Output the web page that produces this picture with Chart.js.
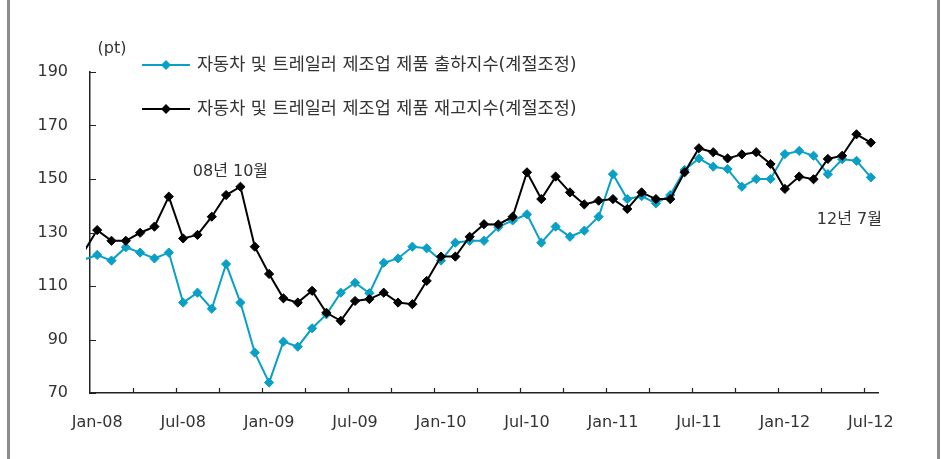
<!DOCTYPE html>
<html>
<head>
<meta charset="utf-8">
<script src="https://cdn.jsdelivr.net/npm/chart.js@4.4.0/dist/chart.umd.min.js"></script>
<style>
  html, body { margin: 0; padding: 0; background: #fff; }
  #wrap { position: relative; width: 941px; height: 459px; }
</style>
</head>
<body>
<div id="wrap"><canvas id="canvas" width="941" height="459"></canvas></div>
<script>
// months, first one (Dec-07) only shows as a line stub at the left edge
const months = ['Dec-07',
  'Jan-08','Feb-08','Mar-08','Apr-08','May-08','Jun-08','Jul-08','Aug-08','Sep-08','Oct-08','Nov-08','Dec-08',
  'Jan-09','Feb-09','Mar-09','Apr-09','May-09','Jun-09','Jul-09','Aug-09','Sep-09','Oct-09','Nov-09','Dec-09',
  'Jan-10','Feb-10','Mar-10','Apr-10','May-10','Jun-10','Jul-10','Aug-10','Sep-10','Oct-10','Nov-10','Dec-10',
  'Jan-11','Feb-11','Mar-11','Apr-11','May-11','Jun-11','Jul-11','Aug-11','Sep-11','Oct-11','Nov-11','Dec-11',
  'Jan-12','Feb-12','Mar-12','Apr-12','May-12','Jun-12','Jul-12'];

// 출하지수 (blue)
const shipment = [119.7,
  121.6, 119.5, 124.5, 122.5, 120.3, 122.5, 103.8, 107.5, 101.5, 118.2, 103.8, 85.1,
  73.9, 89.2, 87.3, 94.2, 99.4, 107.5, 111.2, 107.3, 118.7, 120.3, 124.7, 124.1,
  119.5, 126.2, 126.9, 126.9, 132.0, 134.5, 136.8, 126.2, 132.2, 128.4, 130.7, 135.9,
  151.8, 142.5, 143.6, 140.9, 144.0, 153.4, 157.7, 154.6, 153.7, 147.1, 150.0, 150.0,
  159.3, 160.5, 158.7, 151.8, 157.4, 156.8, 150.6];

// 재고지수 (black)
const inventory = [122.2,
  130.9, 126.9, 126.9, 129.9, 132.2, 143.4, 127.8, 129.1, 135.9, 144.0, 147.1, 124.7,
  114.5, 105.4, 103.8, 108.2, 100.0, 97.0, 104.4, 105.1, 107.5, 103.8, 103.2, 111.9,
  121.0, 121.0, 128.4, 133.1, 133.0, 135.9, 152.5, 142.5, 150.9, 145.0, 140.5, 141.9,
  142.5, 138.8, 145.0, 142.5, 142.5, 152.5, 161.5, 160.0, 157.7, 159.2, 160.0, 155.6,
  146.3, 150.9, 149.9, 157.5, 158.7, 166.7, 163.6];

const seriesNames = ['자동차 및 트레일러 제조업 제품 출하지수(계절조정)',
                     '자동차 및 트레일러 제조업 제품 재고지수(계절조정)'];
const xTickLabels = ['Jan-08','Jul-08','Jan-09','Jul-09','Jan-10','Jul-10','Jan-11','Jul-11','Jan-12','Jul-12'];
const yTicks = [70, 90, 110, 130, 150, 170, 190];

const BLUE = '#0aa0c6';
const FONT = "'DejaVu Sans', 'Noto Sans CJK KR', sans-serif";

// x position: Jan-08 = 0, Dec-07 = -1
const pts = arr => arr.map((v, i) => ({ x: i - 1, y: v }));
const xTickPos = xTickLabels.map(l => months.indexOf(l) - 1);

const extras = {
  id: 'extras',
  beforeDraw(chart) {
    const c = chart.ctx;
    c.save();
    c.fillStyle = '#8c8c8c';
    c.fillRect(7, 0, 3, 459);
    c.fillRect(937, 0, 3, 459);
    c.restore();
  },
  afterDraw(chart) {
    const c = chart.ctx, a = chart.chartArea;
    const x = chart.scales.x, y = chart.scales.y;
    c.save();
    // inside tick marks
    c.strokeStyle = '#222';
    c.lineWidth = 1.2;
    c.beginPath();
    yTicks.forEach(v => {
      const py = Math.round(y.getPixelForValue(v)) + 0.5;
      c.moveTo(a.left, py); c.lineTo(a.left + 6, py);
    });
    for (let b = 2.5; b < 54.5; b += 3) {
      const px = Math.round(x.getPixelForValue(b)) + 0.5;
      c.moveTo(px, a.bottom); c.lineTo(px, a.bottom - 5);
    }
    c.stroke();

    c.fillStyle = '#333';
    c.font = '16px ' + FONT;
    c.textBaseline = 'middle';
    c.textAlign = 'center';
    c.fillText('(pt)', 112, 49);
    c.fillText('08년 10월', x.getPixelForValue(9.3), y.getPixelForValue(152.6));
    c.fillText('12년 7월', x.getPixelForValue(52.5), y.getPixelForValue(134.9));

    // legend
    const rows = [[BLUE, 65], ['#000', 109]];
    c.font = '17.5px ' + FONT;
    c.textAlign = 'left';
    rows.forEach(([col, ly], i) => {
      c.strokeStyle = col; c.fillStyle = col; c.lineWidth = 2;
      c.beginPath(); c.moveTo(142, ly); c.lineTo(190, ly); c.stroke();
      c.beginPath();
      c.moveTo(166, ly - 5); c.lineTo(171, ly); c.lineTo(166, ly + 5); c.lineTo(161, ly);
      c.closePath(); c.fill();
      c.fillStyle = '#333';
      c.fillText(seriesNames[i], 197, ly);
    });
    c.restore();
  }
};

const marker = ctx => ctx.dataIndex === 0 ? 0 : 4.6;

new Chart(document.getElementById('canvas'), {
  type: 'line',
  data: {
    datasets: [{
      label: seriesNames[0],
      data: pts(shipment),
      borderColor: BLUE,
      backgroundColor: BLUE,
      borderWidth: 2,
      pointStyle: 'rectRot',
      pointRadius: marker,
      pointBorderWidth: 1,
      tension: 0,
      order: 2,
      clip: { left: 4, right: 4, top: 10, bottom: 10 }
    }, {
      label: seriesNames[1],
      data: pts(inventory),
      borderColor: '#000',
      backgroundColor: '#000',
      borderWidth: 2,
      pointStyle: 'rectRot',
      pointRadius: marker,
      pointBorderWidth: 1,
      tension: 0,
      order: 1,
      clip: { left: 4, right: 4, top: 10, bottom: 10 }
    }]
  },
  options: {
    responsive: false,
    animation: false,
    layout: { padding: { top: 72, right: 63, left: 0, bottom: 0 } },
    plugins: { legend: { display: false }, tooltip: { enabled: false } },
    scales: {
      x: {
        type: 'linear',
        min: -0.5,
        max: 54.5,
        afterFit: s => { s.height = 66; },
        afterBuildTicks: s => { s.ticks = xTickPos.map(v => ({ value: v })); },
        grid: { display: false, drawTicks: false },
        border: { color: '#222', width: 1.5 },
        ticks: {
          autoSkip: false,
          maxRotation: 0,
          padding: 20,
          color: '#333',
          font: { family: FONT, size: 16 },
          callback: v => xTickLabels[xTickPos.indexOf(v)]
        }
      },
      y: {
        min: 70,
        max: 190,
        afterFit: s => { s.width = 90; },
        afterBuildTicks: s => { s.ticks = yTicks.map(v => ({ value: v })); },
        grid: { display: false, drawTicks: false },
        border: { color: '#222', width: 1.5 },
        ticks: {
          padding: 22,
          color: '#333',
          font: { family: FONT, size: 16 }
        }
      }
    }
  },
  plugins: [extras]
});
</script>
</body>
</html>
